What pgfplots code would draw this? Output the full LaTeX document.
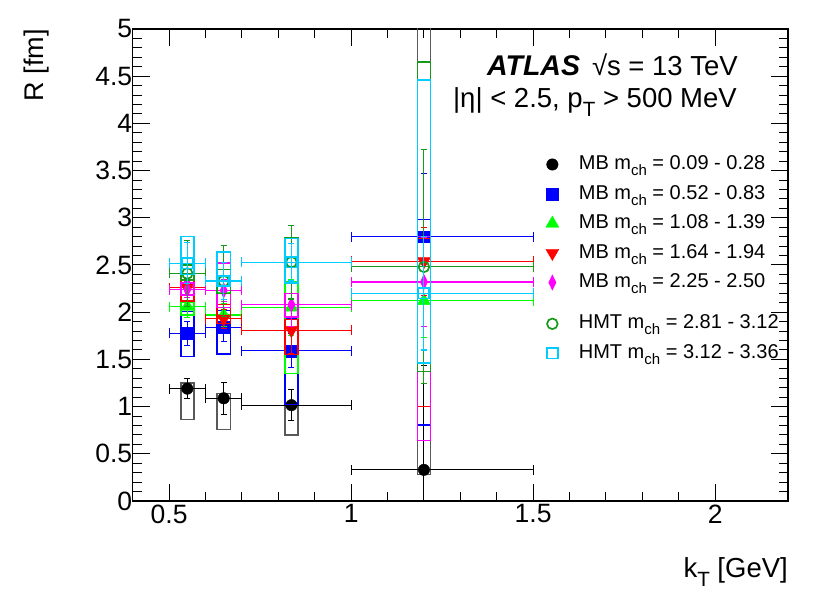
\documentclass[border=0pt]{standalone}
\usepackage{fontspec}
\setmainfont{Liberation Sans}
\usepackage{pgfplots}
\usepackage{pgfplotstable}
\pgfplotsset{compat=1.18}
\pgfdeclareplotmark{nothing}{}
\newcommand\sub[1]{\raisebox{-0.3em}{\scalebox{0.75}{#1}}}
\definecolor{cblue}{rgb}{0,0,1}
\definecolor{clgreen}{rgb}{0,1,0}
\definecolor{cred}{rgb}{1,0,0}
\definecolor{cmag}{rgb}{1,0,1}
\definecolor{cdgreen}{rgb}{0.1,0.6,0.1}
\definecolor{ccyan}{rgb}{0,0.8,1}
\definecolor{cgrey}{rgb}{0.35,0.35,0.35}

% x y exm exp stat blo bhi  (stat = statistical error, blo/bhi = systematic box)
\pgfplotstableread{
x y exm exp stat blo bhi
0.55 1.19 0.05 0.05 0.105 0.865 1.25
0.65 1.088 0.05 0.05 0.17 0.76 1.14
0.836 1.015 0.136 0.164 0.165 0.70 1.02
1.2 0.33 0.2 0.3 1.11 0.28 5.5
}\tblk
\pgfplotstableread{
x y exm exp stat blo bhi
0.55 1.776 0.05 0.05 0.13 1.53 2.005
0.65 1.84 0.05 0.05 0.15 1.555 2.02
0.836 1.59 0.136 0.164 0.18 1.02 1.93
1.2 2.80 0.2 0.3 0.67 0.805 2.98
}\tblu
\pgfplotstableread{
x y exm exp stat blo bhi
0.55 2.06 0.05 0.05 0.12 1.97 2.11
0.65 1.97 0.05 0.05 0.12 1.96 2.21
0.836 2.05 0.136 0.164 0.30 1.35 2.32
1.2 2.12 0.2 0.3 0.39 0.64 2.78
}\tlgr
\pgfplotstableread{
x y exm exp stat blo bhi
0.55 2.26 0.05 0.05 0.10 2.12 2.34
0.65 1.93 0.05 0.05 0.10 1.88 2.08
0.836 1.81 0.136 0.164 0.25 1.55 1.92
1.2 2.54 0.2 0.3 0.36 1.00 2.78
}\tred
\pgfplotstableread{
x y exm exp stat blo bhi
0.55 2.24 0.05 0.05 0.08 2.18 2.31
0.65 2.23 0.05 0.05 0.12 2.05 2.52
0.836 2.08 0.136 0.164 0.23 1.95 2.20
1.2 2.32 0.2 0.3 0.47 0.64 2.80
}\tmag
\pgfplotstableread{
x y exm exp stat blo bhi
0.55 2.41 0.05 0.05 0.35 2.34 2.50
0.65 2.33 0.05 0.05 0.38 2.20 2.45
0.836 2.53 0.136 0.164 0.39 2.31 2.79
1.2 2.48 0.2 0.3 1.24 1.37 4.65
}\tdgr
\pgfplotstableread{
x y exm exp stat blo bhi
0.55 2.52 0.05 0.05 0.22 2.40 2.80
0.65 2.33 0.05 0.05 0.20 2.27 2.64
0.836 2.53 0.136 0.164 0.20 2.31 2.78
1.2 2.20 0.2 0.3 0.60 1.46 4.46
}\tcya

% #1 table, #2 colour, #3 box colour, #4 marker options
\newcommand\series[4]{%
\addplot[forget plot, scatter, only marks, mark=nothing,
  visualization depends on={\thisrow{blo}-\thisrow{y} \as \boxlo},
  visualization depends on={\thisrow{bhi}-\thisrow{y} \as \boxhi},
  scatter/@pre marker code/.code={\draw[#3, line width=1.5pt] (axis direction cs:-0.018,\boxlo) rectangle (axis direction cs:0.018,\boxhi);},
  scatter/@post marker code/.code={}] table[x=x,y=y]{#1};
\addplot[forget plot, #2, only marks, mark=nothing,
  error bars/.cd, x dir=both, x explicit,
  error mark=-,
  error bar style={line width=1.1pt, #2},
  error mark options={rotate=90, mark size=5pt, line width=1.1pt, #2}]
  table[x=x, y=y, x error minus=exm, x error plus=exp]{#1};
\addplot[forget plot, #2, only marks, #4,
  error bars/.cd, y dir=both, y explicit,
  error mark=-,
  error bar style={line width=1.1pt, #2},
  error mark options={rotate=90, mark size=3pt, line width=1.1pt, #2, xscale=1}]
  table[x=x, y=y, y error=stat]{#1};
}

\begin{document}
\begin{tikzpicture}
\path[use as bounding box] (-132.7pt,-95pt) rectangle (697.3pt,501pt);
\begin{axis}[
  at={(0,0)}, anchor=south west,
  scale only axis, width=655.3pt, height=472pt,
  xmin=0.4, xmax=2.2, ymin=0, ymax=5,
  xtick={0.5,1,1.5,2}, ytick={0,0.5,1,1.5,2,2.5,3,3.5,4,4.5,5},
  minor x tick num=4, minor y tick num=4,
  tick pos=both, ticklabel pos=lower,
  tick align=inside, major tick length=17pt, minor tick length=9pt,
  axis line style={line width=1.1pt},
  tick style={line width=1pt, black},
  ticklabel style={font=\fontsize{26.5}{30}\selectfont},
  /pgf/number format/assume math mode=true,
  yticklabel style={xshift=3pt},
  clip marker paths=true,
  legend image code/.code={\draw[#1] plot coordinates {(0pt,0pt)};},
  legend cell align=left,
  legend style={at={(axis description cs:0.6302,0.7345)}, anchor=north west,
    draw=none, fill=none, inner sep=0pt, row sep=9.5pt, column sep=20pt,
    font=\fontsize{20}{24}\selectfont,
    nodes={inner sep=0pt, text height=15pt, text depth=5pt}},
]
\series{\tblk}{black}{cgrey}{mark=*, mark size=5.75pt}
\series{\tblu}{cblue}{cblue}{mark=square*, mark size=5.85pt}
\series{\tlgr}{clgreen}{clgreen}{mark=triangle*, mark size=7.5pt}
\series{\tred}{cred}{cred}{mark=triangle*, mark size=7.5pt, mark options={rotate=180}}
\series{\tmag}{cmag}{cmag}{mark=diamond*, mark size=7.6pt, mark options={xscale=0.64}}
\series{\tdgr}{cdgreen}{cdgreen}{mark=o, mark size=5.3pt, mark options={line width=1.7pt}}
\series{\tcya}{ccyan}{ccyan}{mark=square, mark size=5.3pt, mark options={line width=1.7pt}}

\addlegendimage{only marks, black, mark=*, mark size=5.75pt}
\addlegendentry{MB m\sub{ch} = 0.09 - 0.28}
\addlegendimage{only marks, cblue, mark=square*, mark size=5.85pt}
\addlegendentry{MB m\sub{ch} = 0.52 - 0.83}
\addlegendimage{only marks, clgreen, mark=triangle*, mark size=7.5pt}
\addlegendentry{MB m\sub{ch} = 1.08 - 1.39}
\addlegendimage{only marks, cred, mark=triangle*, mark size=7.5pt, mark options={rotate=180}}
\addlegendentry{MB m\sub{ch} = 1.64 - 1.94}
\addlegendimage{only marks, cmag, mark=diamond*, mark size=7.6pt, mark options={xscale=0.64}}
\addlegendentry{MB m\sub{ch} = 2.25 - 2.50}
\addlegendimage{empty legend}
\addlegendentry[text height=1pt, text depth=1.3pt]{}
\addlegendimage{only marks, cdgreen, mark=o, mark size=5.3pt, mark options={line width=1.7pt}}
\addlegendentry{HMT m\sub{ch} = 2.81 - 3.12}
\addlegendimage{only marks, ccyan, mark=square, mark size=5.3pt, mark options={line width=1.7pt}}
\addlegendentry{HMT m\sub{ch} = 3.12 - 3.36}
\end{axis}
\node[anchor=base east, inner sep=0pt, font=\fontsize{27.5}{30}\selectfont] at (605.3pt,425pt) {{\fontsize{28.5}{30}\selectfont\textbf{\textit{ATLAS}}}\hspace{12pt}√s = 13 TeV};
\node[anchor=base east, inner sep=0pt, font=\fontsize{27.5}{30}\selectfont] at (604.3pt,393pt) {|η| < 2.5, p\sub{T} > 500 MeV};
\node[anchor=base east, inner sep=0pt, font=\fontsize{27.5}{30}\selectfont] at (655.3pt,-77pt) {k\sub{T} [GeV]};
\node[rotate=90, anchor=base east, inner sep=0pt, font=\fontsize{27}{30}\selectfont] at (-89.4pt,472pt) {R [fm]};
\end{tikzpicture}
\end{document}
